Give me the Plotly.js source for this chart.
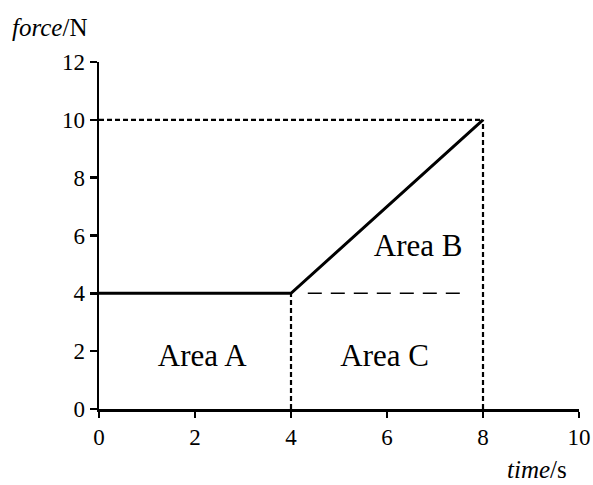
<!DOCTYPE html>
<html>
<head>
<meta charset="utf-8">
<script src="https://cdn.plot.ly/plotly-3.0.1.min.js"></script>
<style>html,body{margin:0;padding:0;background:#fff;}#chart{width:593px;height:485px;}</style>
</head>
<body>
<div id="chart"></div>
<script>
// Data
const time = [0, 4, 8];
const force = [4, 4, 10];
// guide lines (short dashes)
const guideTop_x = [0, 8];
const guideTop_y = [10, 10];
const guideV8_x = [8, 8];
const guideV8_y = [0, 10];
const guideV4_x = [4, 4];
const guideV4_y = [0, 4];
// long dashed line separating Area B and Area C
const splitB_x = [4.35, 7.7];
const splitB_y = [4, 4];
// area labels
const areaNames = ["Area A", "Area B", "Area C"];
const areaX = [2.15, 6.65, 5.95];
const areaY = [1.75, 5.55, 1.75];
const xTicks = [0, 2, 4, 6, 8, 10];
const yTicks = [0, 2, 4, 6, 8, 10, 12];

const FONT = "Liberation Serif";
const shortDash = {color: "#000", width: 2.2, dash: "5px,3px"};

const traces = [
  {x: guideTop_x, y: guideTop_y, mode: "lines", line: shortDash, hoverinfo: "skip", cliponaxis: false},
  {x: guideV8_x, y: guideV8_y, mode: "lines", line: shortDash, hoverinfo: "skip", cliponaxis: false},
  {x: guideV4_x, y: guideV4_y, mode: "lines", line: shortDash, hoverinfo: "skip", cliponaxis: false},
  {x: splitB_x, y: splitB_y, mode: "lines", line: {color: "#000", width: 1.5, dash: "14px,9px"}, hoverinfo: "skip"},
  {x: time, y: force, mode: "lines", line: {color: "#000", width: 3}, cliponaxis: false},
  {x: areaX, y: areaY, mode: "text", text: areaNames, textposition: "middle center",
   textfont: {family: FONT, size: 31, color: "#000"}, hoverinfo: "skip"}
];

const layout = {
  width: 593, height: 485,
  margin: {l: 99, r: 14, t: 62, b: 76},
  paper_bgcolor: "#fff", plot_bgcolor: "#fff",
  showlegend: false,
  font: {family: FONT, size: 23, color: "#000"},
  xaxis: {
    range: [0, 10], tickvals: xTicks, ticktext: xTicks.map(String),
    showline: true, linecolor: "#000", linewidth: 2.5,
    ticks: "outside", ticklen: 6, tickwidth: 2.5, tickcolor: "#000",
    showgrid: false, zeroline: false, fixedrange: true,
    tickfont: {family: FONT, size: 23, color: "#000"}
  },
  yaxis: {
    range: [0, 12], tickvals: yTicks, ticktext: yTicks.map(String),
    showline: true, linecolor: "#000", linewidth: 2.5,
    ticks: "outside", ticklen: 7, tickwidth: 2.5, tickcolor: "#000",
    showgrid: false, zeroline: false, fixedrange: true,
    tickfont: {family: FONT, size: 23, color: "#000"}
  },
  annotations: [
    {text: "<i>force</i>/N", xref: "paper", yref: "paper", x: -0.185, y: 1.1,
     xanchor: "left", yanchor: "middle", showarrow: false, font: {family: FONT, size: 25, color: "#000"}},
    {text: "<i>time</i>/s", xref: "paper", yref: "paper", x: 0.98, y: -0.173,
     xanchor: "right", yanchor: "middle", showarrow: false, font: {family: FONT, size: 25, color: "#000"}}
  ]
};

Plotly.newPlot("chart", traces, layout, {displayModeBar: false, staticPlot: true});
</script>
</body>
</html>
